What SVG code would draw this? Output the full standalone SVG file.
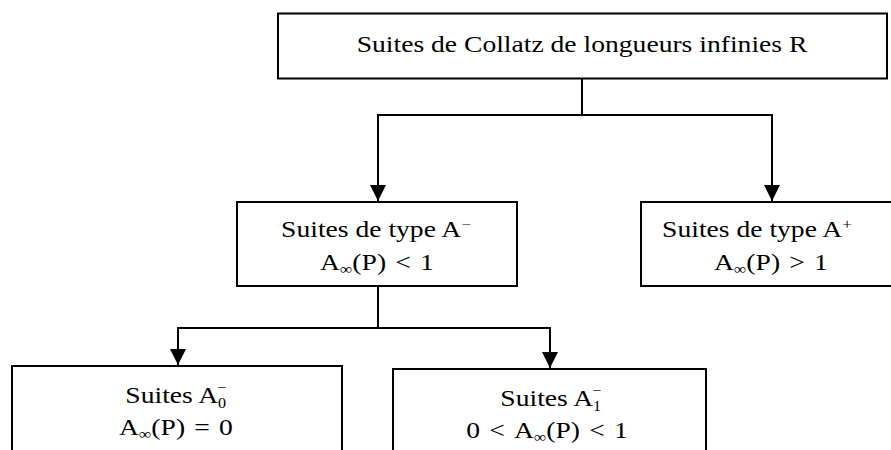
<svg xmlns="http://www.w3.org/2000/svg" width="891" height="450" viewBox="0 0 891 450">
  <style>
    .box { fill: #ffffff; stroke: #000000; stroke-width: 2; }
    .conn { fill: none; stroke: #000000; stroke-width: 2; }
    .lbl { font-family: "Liberation Serif", "Times New Roman", serif; font-size: 24px; fill: #000000; text-anchor: middle; }
    .sm { font-size: 15px; }
    .xs { font-size: 14px; }
  </style>
  <defs>
    <marker id="arrow" markerUnits="userSpaceOnUse" markerWidth="16" markerHeight="16" viewBox="0 0 16 16" refX="16" refY="8" orient="auto">
      <path d="M0,0 L16,8 L0,16 Z" fill="#000000"/>
    </marker>
  </defs>
  <rect width="891" height="450" fill="#ffffff"/>

  <g id="connectors">
    <line class="conn" x1="582" y1="79" x2="582" y2="115"/>
    <line class="conn" x1="377" y1="115" x2="773" y2="115"/>
    <line class="conn" x1="378" y1="114" x2="378" y2="201" marker-end="url(#arrow)"/>
    <line class="conn" x1="772" y1="114" x2="772" y2="201" marker-end="url(#arrow)"/>
    <line class="conn" x1="378" y1="286" x2="378" y2="328"/>
    <line class="conn" x1="177" y1="328" x2="551" y2="328"/>
    <line class="conn" x1="178" y1="327" x2="178" y2="365" marker-end="url(#arrow)"/>
    <line class="conn" x1="550" y1="327" x2="550" y2="368" marker-end="url(#arrow)"/>
  </g>

  <g id="node-root">
    <rect class="box" x="278" y="13.5" width="609" height="65"/>
    <text class="lbl" transform="translate(582,52) scale(1.15,1)">Suites de Collatz de longueurs infinies R</text>
  </g>

  <g id="node-a-minus">
    <rect class="box" x="237" y="202" width="280" height="84"/>
    <text class="lbl" transform="translate(376,237) scale(1.15,1)">Suites de type A<tspan class="sm" dy="-8">−</tspan></text>
    <text class="lbl" transform="translate(377,270) scale(1.15,1)">A<tspan class="sm" dy="4">∞</tspan><tspan dy="-4">(P) </tspan><tspan dx="2">&lt; </tspan><tspan dx="2">1</tspan></text>
  </g>

  <g id="node-a-plus">
    <rect class="box" x="641" y="202" width="260" height="84"/>
    <text class="lbl" transform="translate(757,237) scale(1.15,1)">Suites de type A<tspan class="sm" dy="-8">+</tspan></text>
    <text class="lbl" transform="translate(771,270) scale(1.15,1)">A<tspan class="sm" dy="4">∞</tspan><tspan dy="-4">(P) </tspan><tspan dx="2">&gt; </tspan><tspan dx="2">1</tspan></text>
  </g>

  <g id="node-a0">
    <rect class="box" x="12" y="366" width="330" height="100"/>
    <text class="lbl" transform="translate(176,403) scale(1.15,1)">Suites  A<tspan class="xs" dy="5">0</tspan><tspan class="xs" dx="-7.5" dy="-16">−</tspan></text>
    <text class="lbl" transform="translate(176,435) scale(1.15,1)">A<tspan class="sm" dy="4">∞</tspan><tspan dy="-4">(P) </tspan><tspan dx="2">= </tspan><tspan dx="2">0</tspan></text>
  </g>

  <g id="node-a1">
    <rect class="box" x="393" y="369" width="313" height="100"/>
    <text class="lbl" transform="translate(551,406) scale(1.15,1)">Suites A<tspan class="xs" dy="5">1</tspan><tspan class="xs" dx="-7.5" dy="-16">−</tspan></text>
    <text class="lbl" transform="translate(547,438) scale(1.15,1)">0 <tspan dx="2">&lt; </tspan><tspan dx="2">A</tspan><tspan class="sm" dy="4">∞</tspan><tspan dy="-4">(P) </tspan><tspan dx="2">&lt; </tspan><tspan dx="2">1</tspan></text>
  </g>
</svg>
